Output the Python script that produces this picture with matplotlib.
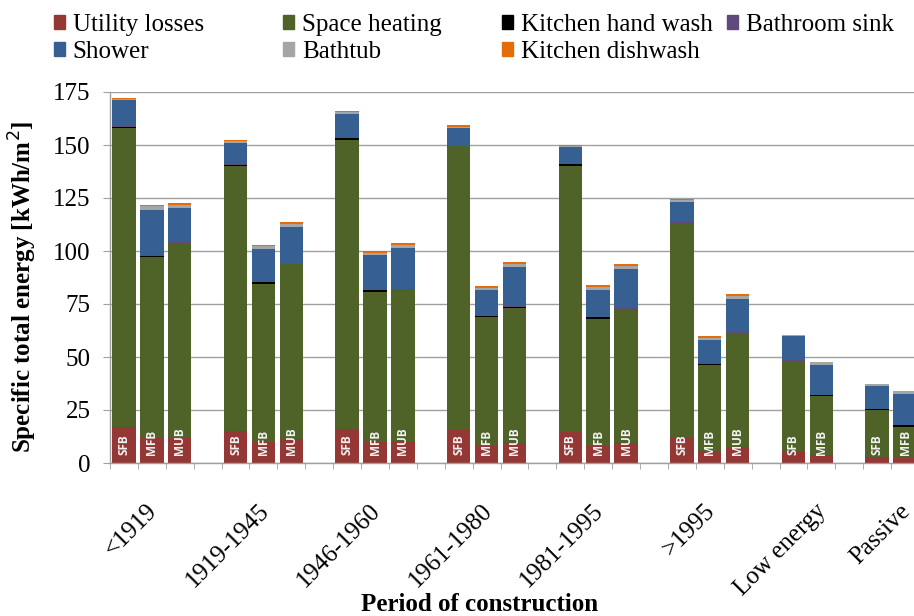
import numpy as np
import matplotlib
matplotlib.use('Agg')
import matplotlib.pyplot as plt
from matplotlib.patches import Patch
from matplotlib.transforms import ScaledTranslation

# ── data (kWh/m2) ────────────────────────────────────────────────────────────
periods     = ["<1919", "1919-1945", "1946-1960", "1961-1980", "1981-1995",
               ">1995", "Low energy", "Passive"]
group_types = [["SFB", "MFB", "MUB"]] * 6 + [["SFB", "MFB"]] * 2

utility_losses = [17, 12, 12, 15, 10, 11.2, 16, 10, 10.4, 15.6, 8.2, 9.3,
                  14.8, 8.2, 9.3, 12, 5.7, 7.4, 5.4, 3.8, 3, 2.5]
space_heating  = [141, 85, 91.8, 125, 74.4, 82.5, 136.5, 70.7, 71.2, 133.7, 60.5, 64,
                  125.4, 59.8, 63.4, 101.2, 40.3, 53.7, 42.7, 27.6, 22.2, 14.5]
kitchen_hand   = [0.6, 0.8, 0.2, 0.8, 0.8, 0.1, 0.8, 0.8, 0.1, 0.1, 0.6, 0.1,
                  0.8, 0.7, 0.1, 0.1, 0.7, 0.1, 0.1, 0.6, 0.1, 0.7]
bathroom_sink  = [0.2, 0.4, 0.3, 0.2, 0.3, 0.3, 0.2, 0.3, 0.3, 0.2, 0.2, 0.5,
                  0.2, 0.2, 0.4, 0.2, 0.3, 0.5, 0.3, 0.2, 0.3, 0.4]
shower         = [12.3, 21, 16, 10, 15.5, 17.3, 11.3, 16.2, 19.5, 8.2, 12, 18.6,
                  7.7, 12.9, 18.2, 9.6, 11.2, 15.8, 11.2, 14, 10.9, 14.3]
bathtub        = [0.7, 1.8, 1.5, 0.8, 1.2, 1.3, 0.8, 1.2, 1.5, 0.8, 1.0, 1.5,
                  0.5, 1.1, 1.3, 0.8, 0.8, 1.1, 0.8, 1.4, 0.9, 1.5]
kitchen_dish   = [0.5, 0.8, 0.8, 0.6, 0.8, 0.8, 0.6, 0.7, 1.0, 0.6, 0.8, 1.0,
                  0.6, 0.9, 1.2, 0.7, 0.8, 1.1, 0, 0, 0, 0]

series = [
    ("Utility losses",    utility_losses, "#953735"),
    ("Space heating",     space_heating,  "#4F6228"),
    ("Kitchen hand wash", kitchen_hand,   "#000000"),
    ("Bathroom sink",     bathroom_sink,  "#604A7B"),
    ("Shower",            shower,         "#376092"),
    ("Bathtub",           bathtub,        "#A5A5A5"),
    ("Kitchen dishwash",  kitchen_dish,   "#E46C0A"),
]

# ── bar positions: one empty slot between period groups ─────────────────────
xpos, bar_text, label_pos = [], [], []
slot = 0
for types in group_types:
    for i, t in enumerate(types):
        xpos.append(slot + i)
        bar_text.append(t)
    label_pos.append(slot + 1)
    slot += len(types) + 1
xpos = np.array(xpos)
last = xpos.max()

plt.rcParams['font.family'] = ['Liberation Serif', 'DejaVu Serif']
fig = plt.figure(figsize=(9.14, 6.16), dpi=100)
ax = fig.add_axes([110/914, 1 - 463/616, 809/914, 371/616])

grid_c = "#A0A0A0"
bottom = np.zeros(len(xpos))
for name, vals, col in series:
    vals = np.array(vals, dtype=float)
    ax.bar(xpos, vals, width=0.84, bottom=bottom, color=col, label=name, zorder=2)
    bottom += vals

for x, t in zip(xpos, bar_text):
    ax.annotate(t, (x, 0), xytext=(0, 5.5), textcoords='offset points',
                rotation=90, ha='center', va='bottom', color='#F2F2F2',
                fontsize=8.5, fontweight='bold', family='Open Sans', zorder=3)

# ── axes styling ─────────────────────────────────────────────────────────────
ax.set_xlim(-0.5, last + 0.5)
ax.set_ylim(0, 175)
ax.set_yticks(np.arange(0, 176, 25))
ax.yaxis.grid(True, color=grid_c, lw=1.0, zorder=0)
ax.set_axisbelow(True)
for s in ['top', 'right']:
    ax.spines[s].set_visible(False)
for s in ['left', 'bottom']:
    ax.spines[s].set_color(grid_c)
    ax.spines[s].set_linewidth(1.0)
ax.tick_params(axis='y', length=5, color=grid_c, pad=9, labelsize=18)

ax.set_xticks(np.arange(-0.5, last + 1, 1.0), minor=True)
ax.tick_params(axis='x', which='minor', length=4, color=grid_c)
ax.set_xticks(label_pos)
ax.set_xticklabels(periods, rotation=45, ha='right', va='center',
                   rotation_mode='anchor', fontsize=18)
ax.tick_params(axis='x', which='major', length=0, pad=32)
shift = ScaledTranslation(2/100, 0, fig.dpi_scale_trans)
for lab in ax.get_xticklabels():
    lab.set_transform(lab.get_transform() + shift)

ax.set_ylabel("Specific total energy [kWh/m$^2$]", fontsize=18, fontweight='bold')
ax.yaxis.set_label_coords(-0.088, 0.474)
ax.set_xlabel("Period of construction", fontsize=18, fontweight='bold')
ax.xaxis.set_label_coords(0.457, -0.35)

# ── legend: Excel-style fixed columns, filled row-wise ───────────────────────
handles = [Patch(color=c) for _, _, c in series]
names = [n for n, _, _ in series]
cols = [[0, 4], [1, 5], [2, 6], [3]]
col_x = [54, 283, 502, 727]
for cx, idx in zip(col_x, cols):
    fig.legend([handles[i] for i in idx], [names[i] for i in idx],
               loc='upper left', bbox_to_anchor=(cx/914, 1 - 14/616),
               frameon=False, fontsize=18, handlelength=0.45, handleheight=0.45,
               handletextpad=0.3, labelspacing=0.2, borderpad=0, borderaxespad=0)

fig.savefig("out.png", dpi=100)
